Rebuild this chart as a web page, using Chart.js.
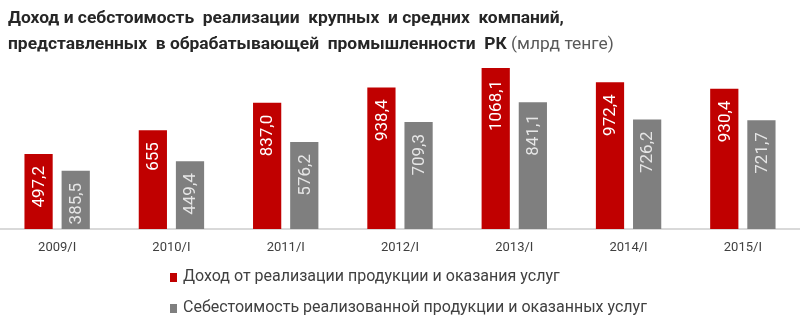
<!DOCTYPE html>
<html lang="ru">
<head>
<meta charset="utf-8">
<script src="https://cdn.jsdelivr.net/npm/chart.js@4.4.0/dist/chart.umd.min.js"></script>
<style>
    body { margin: 0; background: #fff; }
    #wrap { position: relative; width: 800px; height: 334px; overflow: hidden; }
    #chart { position: absolute; left: 0; top: 0; }
    #title {
        position: absolute; left: 8px; top: 4px;
        font: bold 17.4px Roboto, sans-serif; line-height: 26px; color: #262626;
        white-space: pre;
    }
    #title .unit { font-weight: normal; color: #595959; }
    #legend { position: absolute; left: 170px; top: 266px; font: 16px Roboto, sans-serif; color: #404040; }
    #legend div { height: 31px; line-height: 20px; white-space: nowrap; }
    #legend span.box { display: inline-block; width: 7px; height: 9px; margin-right: 6px; vertical-align: -1px; }
</style>
</head>
<body>
<div id="wrap">
    <canvas id="chart" width="800" height="334"></canvas>
    <div id="title">Доход и себстоимость  реализации  крупных  и средних  компаний,
представленных  в обрабатывающей  промышленности  РК <span class="unit">(млрд тенге)</span></div>
    <div id="legend"></div>
</div>
<script>
const categories = ["2009/I", "2010/I", "2011/I", "2012/I", "2013/I", "2014/I", "2015/I"];
const revenue = [497.2, 655, 837.0, 938.4, 1068.1, 972.4, 930.4];
const revenueText = ["497,2", "655", "837,0", "938,4", "1068,1", "972,4", "930,4"];
const cost = [385.5, 449.4, 576.2, 709.3, 841.1, 726.2, 721.7];
const costText = ["385,5", "449,4", "576,2", "709,3", "841,1", "726,2", "721,7"];

// white vertical value labels inside the bars
const barLabels = {
    id: "barLabels",
    afterDatasetsDraw(chart) {
        const ctx = chart.ctx;
        chart.data.datasets.forEach((ds, i) => {
            const meta = chart.getDatasetMeta(i);
            meta.data.forEach((bar, j) => {
                ctx.save();
                ctx.translate(bar.x + 1, bar.y + 12);
                ctx.rotate(-Math.PI / 2);
                ctx.font = "17px Roboto, sans-serif";
                ctx.fillStyle = ds.labelColor;
                ctx.textAlign = "right";
                ctx.textBaseline = "middle";
                ctx.fillText(ds.texts[j], 0, 0);
                ctx.restore();
            });
        });
    }
};

const chart = new Chart(document.getElementById("chart"), {
    type: "bar",
    data: {
        labels: categories,
        datasets: [{
            label: "Доход от реализации продукции и оказания услуг",
            data: revenue,
            texts: revenueText,
            labelColor: "#ffffff",
            backgroundColor: "#c00000",
            categoryPercentage: 0.65,
            barPercentage: 0.76
        }, {
            label: "Себестоимость реализованной продукции и оказанных услуг",
            data: cost,
            texts: costText,
            labelColor: "#e6e6e6",
            backgroundColor: "#7f7f7f",
            categoryPercentage: 0.65,
            barPercentage: 0.76
        }]
    },
    options: {
        responsive: false,
        animation: false,
        layout: { padding: { top: 48, bottom: 75, left: 0, right: 0 } },
        plugins: {
            legend: { display: false },
            tooltip: { enabled: false }
        },
        scales: {
            x: {
                grid: { display: false, drawTicks: false },
                border: { display: true, color: "#d9d9d9", width: 2 },
                ticks: { color: "#404040", font: { family: "Roboto", size: 13 }, padding: 11 },
                afterFit: s => { s.height = 30; }
            },
            y: { display: false, min: 0, max: 1200 }
        }
    },
    plugins: [barLabels]
});

// legend built from the datasets
const legend = document.getElementById("legend");
chart.data.datasets.forEach(ds => {
    const row = document.createElement("div");
    row.innerHTML = `<span class="box" style="background:${ds.backgroundColor}"></span>${ds.label}`;
    legend.appendChild(row);
});
</script>
</body>
</html>
